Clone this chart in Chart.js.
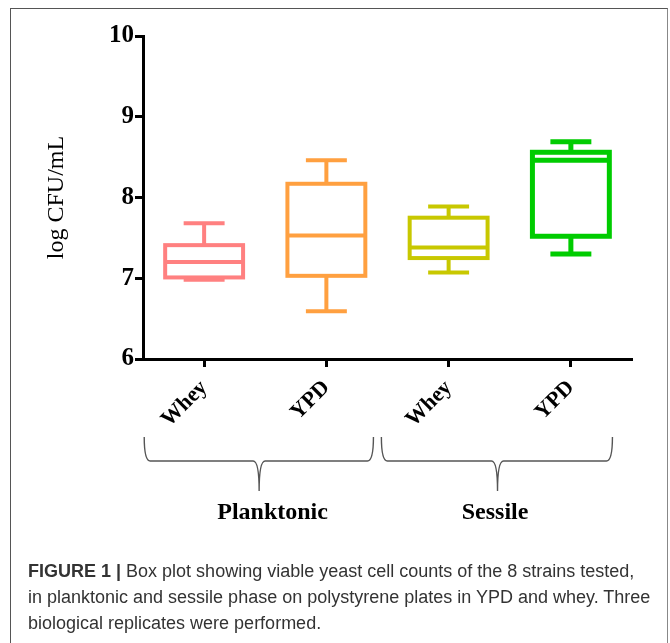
<!DOCTYPE html>
<html>
<head>
<meta charset="utf-8">
<script src="https://cdn.jsdelivr.net/npm/chart.js@4/dist/chart.umd.min.js"></script>
<style>
html,body{margin:0;padding:0;background:#fff;overflow:hidden}
#wrap{position:relative;width:670px;height:643px;overflow:hidden}
#frame{position:absolute;left:10px;top:8px;width:658px;height:700px;border:1.5px solid #555;border-right-color:#888;box-sizing:border-box}
#c{position:absolute;left:0;top:0}
#cap{position:absolute;left:28px;top:558px;font-family:"Liberation Sans",Arial,sans-serif;font-size:18px;line-height:26px;color:#333;white-space:nowrap}
</style>
</head>
<body>
<div id="wrap">
  <div id="frame"></div>
  <canvas id="c" width="670" height="643"></canvas>
  <div id="cap"><b>FIGURE 1</b> <b>|</b> Box plot showing viable yeast cell counts of the 8 strains tested,<br>in planktonic and sessile phase on polystyrene plates in YPD and whey. Three<br>biological replicates were performed.</div>
</div>
<script>
// ---- data ----
const categories = ['Whey', 'YPD', 'Whey', 'YPD'];
const groups = ['Planktonic', 'Sessile'];
const whiskerMin = [6.98, 6.59, 7.07, 7.30];
const q1 = [7.01, 7.03, 7.25, 7.52];
const median = [7.20, 7.53, 7.38, 8.46];
const q3 = [7.41, 8.17, 7.75, 8.56];
const whiskerMax = [7.68, 8.46, 7.89, 8.69];
const yTicks = [6, 7, 8, 9, 10];
const yTitle = 'log CFU/mL';

// ---- styles ----
const colors = ['#ff8080', '#ffa040', '#c8c800', '#00cc00'];
const lineWidths = [4, 4, 4, 5];
const serif = '"Liberation Serif","Times New Roman",serif';

const boxPlugin = {
  id: 'boxes',
  afterDatasetsDraw(chart) {
    const ctx = chart.ctx;
    const ys = chart.scales.y;
    const meta = chart.getDatasetMeta(0);
    meta.data.forEach((bar, i) => {
      const x = bar.x, w = bar.width, lw = lineWidths[i];
      const yMin = ys.getPixelForValue(whiskerMin[i]);
      const yQ1 = ys.getPixelForValue(q1[i]);
      const yMed = ys.getPixelForValue(median[i]);
      const yQ3 = ys.getPixelForValue(q3[i]);
      const yMax = ys.getPixelForValue(whiskerMax[i]);
      const capW = w * 0.5;
      ctx.save();
      ctx.strokeStyle = colors[i];
      ctx.lineWidth = lw;
      ctx.lineCap = 'butt';
      ctx.strokeRect(x - w / 2 + lw / 2, yQ3, w - lw, yQ1 - yQ3);
      ctx.beginPath();
      ctx.moveTo(x - w / 2 + lw / 2, yMed); ctx.lineTo(x + w / 2 - lw / 2, yMed);
      ctx.moveTo(x, yQ3); ctx.lineTo(x, yMax);
      ctx.moveTo(x - capW / 2, yMax); ctx.lineTo(x + capW / 2, yMax);
      ctx.moveTo(x, yQ1); ctx.lineTo(x, yMin);
      ctx.moveTo(x - capW / 2, yMin); ctx.lineTo(x + capW / 2, yMin);
      ctx.stroke();
      ctx.restore();
    });
  },
  afterDraw(chart) {
    const ctx = chart.ctx;
    const xs = chart.scales.x;
    const top = 437, mid = 461, tip = 491;
    const spans = [[-0.49, 0.45, 1.385], [1.45, 2.40, 3.34]];
    ctx.save();
    ctx.strokeStyle = '#555';
    ctx.lineWidth = 1.4;
    spans.forEach(s => {
      const a = xs.getPixelForValue(s[0]);
      const m = xs.getPixelForValue(s[1]);
      const b = xs.getPixelForValue(s[2]);
      ctx.beginPath();
      ctx.moveTo(a, top);
      ctx.quadraticCurveTo(a, mid, a + 6, mid);
      ctx.lineTo(m - 6, mid);
      ctx.quadraticCurveTo(m, mid, m, tip);
      ctx.quadraticCurveTo(m, mid, m + 6, mid);
      ctx.lineTo(b - 6, mid);
      ctx.quadraticCurveTo(b, mid, b, top);
      ctx.stroke();
    });
    ctx.fillStyle = '#000';
    ctx.font = 'bold 24px ' + serif;
    ctx.textAlign = 'center';
    ctx.textBaseline = 'middle';
    const labelPos = [0.56, 2.38];
    groups.forEach((g, i) => {
      ctx.fillText(g, xs.getPixelForValue(labelPos[i]), 513);
    });
    ctx.restore();
  }
};

new Chart(document.getElementById('c'), {
  type: 'bar',
  data: {
    labels: categories,
    datasets: [{
      data: q1.map((v, i) => [v, q3[i]]),
      backgroundColor: 'rgba(0,0,0,0)',
      borderColor: 'rgba(0,0,0,0)',
      borderWidth: 0,
      barPercentage: 0.67,
      categoryPercentage: 1
    }]
  },
  options: {
    responsive: false,
    animation: false,
    events: [],
    layout: { padding: { left: 0, top: 36, right: 38, bottom: 184 } },
    plugins: { legend: { display: false }, tooltip: { enabled: false } },
    scales: {
      x: {
        offset: true,
        afterFit: s => { s.height = 100; },
        border: { display: true, color: '#000', width: 3 },
        grid: { display: true, offset: false, drawOnChartArea: false, drawTicks: true, tickLength: 8, tickWidth: 3, tickColor: '#000', color: '#000' },
        ticks: { color: '#000', minRotation: 45, maxRotation: 45, padding: 8, font: { family: serif, size: 22, weight: 'bold' } }
      },
      y: {
        min: 6, max: 10,
        afterFit: s => { s.width = 143; },
        afterBuildTicks: s => { s.ticks = yTicks.map(v => ({ value: v })); },
        border: { display: true, color: '#000', width: 3 },
        grid: { display: true, drawOnChartArea: false, drawTicks: true, tickLength: 8, tickWidth: 3, tickColor: '#000', color: '#000' },
        ticks: { color: '#000', padding: 1, font: { family: serif, size: 25, weight: 'bold' } },
        title: { display: true, text: yTitle, color: '#000', padding: { top: 42, bottom: 0 }, font: { family: serif, size: 24, weight: 'normal' } }
      }
    }
  },
  plugins: [boxPlugin]
});
</script>
</body>
</html>
